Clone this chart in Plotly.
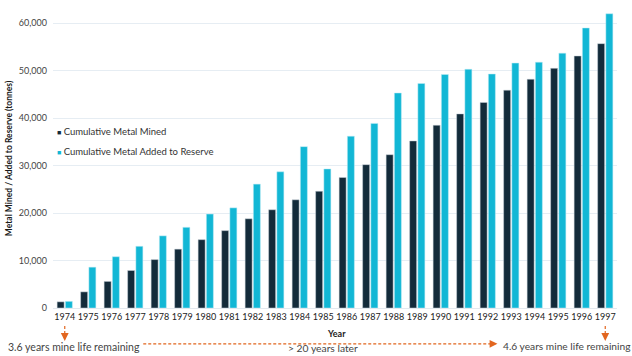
import plotly.graph_objects as go

years = [str(y) for y in range(1974, 1998)]
mined = [1300, 3400, 5600, 7900, 10200, 12400, 14400, 16300, 18800, 20700, 22800, 24600,
         27500, 30200, 32300, 35200, 38500, 40900, 43300, 45900, 48200, 50500, 53100, 55700]
reserve = [1400, 8600, 10800, 13000, 15200, 17000, 19800, 21100, 26100, 28700, 34000, 29300,
           36200, 38900, 45300, 47300, 49200, 50300, 49300, 51600, 51800, 53700, 59000, 62000]
y_ticks = [0, 10000, 20000, 30000, 40000, 50000, 60000]

C_MINED = "#132b3a"
C_RES = "#12b7d5"
ORANGE = "#e2661f"
FONT = "Lato"

fig = go.Figure()
fig.add_trace(go.Bar(x=years, y=mined, name="Cumulative Metal Mined",
                     marker=dict(color=C_MINED, line=dict(color="#c9d3da", width=0.5))))
fig.add_trace(go.Bar(x=years, y=reserve, name="Cumulative Metal Added to Reserve",
                     marker=dict(color=C_RES, line=dict(color="#bfeaf4", width=0.5))))

fig.update_layout(
    width=632, height=356,
    margin=dict(l=47, r=15, t=9, b=48),
    plot_bgcolor="white", paper_bgcolor="white",
    barmode="group", bargap=0.3, bargroupgap=0.15,
    showlegend=False,
    font=dict(family=FONT, color="#333333", size=9),
)
fig.update_xaxes(type="category", tickfont=dict(size=9, color="#222222"),
                 showgrid=False, showline=True, linecolor="#e3e9ef", ticks="")
fig.update_yaxes(range=[0, 63000], tickvals=y_ticks,
                 ticktext=[f"{v:,}" for v in y_ticks],
                 tickfont=dict(size=9, color="#444444"),
                 ticklabelstandoff=5,
                 gridcolor="#e6edf3", gridwidth=1, zeroline=False,
                 title=dict(text="<b>Metal Mined / Added to Reserve (tonnes)</b>",
                            font=dict(size=8.5, color="#1a1a1a"), standoff=4))

# Legend as annotations
fig.add_annotation(xref="paper", yref="paper", x=0.004, y=0.589, xanchor="left", yanchor="middle",
                   showarrow=False, font=dict(size=9.5, color="#333333"),
                   text=f"<span style='color:{C_MINED};font-size:7px'>■</span> Cumulative Metal Mined")
fig.add_annotation(xref="paper", yref="paper", x=0.004, y=0.525, xanchor="left", yanchor="middle",
                   showarrow=False, font=dict(size=9.5, color="#333333"),
                   text=f"<span style='color:{C_RES};font-size:7px'>■</span> Cumulative Metal Added to Reserve")

# Axis title Year
fig.add_annotation(xref="paper", yref="paper", x=0.502, y=-0.084, xanchor="center", yanchor="middle",
                   showarrow=False, text="<b>Year</b>", font=dict(size=9, color="#222222"))

# Bottom annotations
for idx in (0, 23):
    fig.add_shape(type="line", xref="x", yref="paper", x0=idx, x1=idx, y0=-0.060, y1=-0.100,
                  line=dict(color=ORANGE, width=1.2, dash="3px,2px"))
    fig.add_annotation(xref="x", yref="paper", x=idx, y=-0.110, ax=0, ay=-4,
                       showarrow=True, arrowhead=2, arrowsize=1.2, arrowwidth=1.3,
                       arrowcolor=ORANGE, text="", standoff=0)

fig.add_shape(type="line", xref="paper", yref="paper", x0=0.160, x1=0.778, y0=-0.1197, y1=-0.1197,
              line=dict(color=ORANGE, width=1.2, dash="3px,2px"))
fig.add_annotation(xref="paper", yref="paper", x=0.788, y=-0.1197, ax=-4, ay=0,
                   showarrow=True, arrowhead=2, arrowsize=1.2, arrowwidth=1.3,
                   arrowcolor=ORANGE, text="", standoff=0)

fig.add_annotation(xref="paper", yref="paper", x=0.158, y=-0.129, xanchor="right", yanchor="middle",
                   showarrow=False, text="3.6 years mine life remaining",
                   font=dict(size=10.5, color="#444444"))
fig.add_annotation(xref="paper", yref="paper", x=0.479, y=-0.158, xanchor="center", yanchor="bottom",
                   showarrow=False, text="> 20 years later", borderpad=0,
                   font=dict(size=10.3, color="#444444"))
fig.add_annotation(xref="paper", yref="paper", x=0.794, y=-0.127, xanchor="left", yanchor="middle",
                   showarrow=False, text="4.6 years mine life remaining",
                   font=dict(size=10.2, color="#444444"))

fig.write_html("out.html", config={"displayModeBar": False},
               post_script="document.body.style.margin='0';document.body.style.overflow='hidden';")
